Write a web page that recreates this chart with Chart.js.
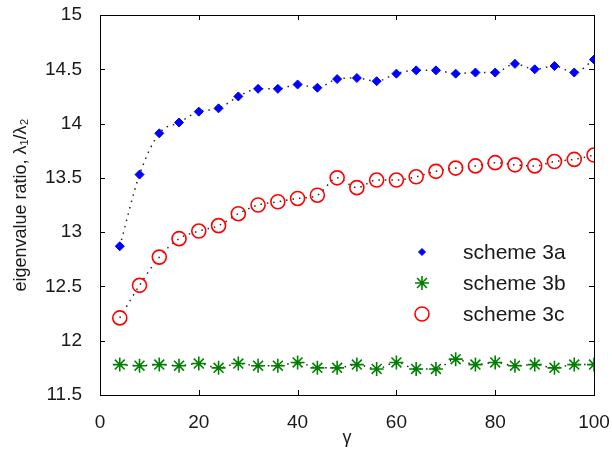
<!DOCTYPE html>
<html>
<head>
<meta charset="utf-8">
<title>eigenvalue ratio vs gamma</title>
<script src="https://cdn.jsdelivr.net/npm/chart.js"></script>
<style>
  html, body { margin: 0; padding: 0; background: #fff; }
  #wrap { width: 612px; height: 462px; }
</style>
</head>
<body>
<div id="wrap"><canvas id="ratioChart" width="612" height="462"></canvas></div>
<script>
// values
const gammaValues = [4, 8, 12, 16, 20, 24, 28, 32, 36, 40, 44, 48, 52,
                     56, 60, 64, 68, 72, 76, 80, 84, 88, 92, 96, 100];
const scheme3a = [12.87, 13.53, 13.91, 14.01, 14.11, 14.14, 14.25, 14.32, 14.32, 14.36, 14.33, 14.41, 14.42,
                  14.39, 14.46, 14.49, 14.49, 14.46, 14.47, 14.47, 14.55, 14.50, 14.53, 14.47, 14.59];
const scheme3b = [11.78, 11.77, 11.78, 11.77, 11.79, 11.75, 11.79, 11.77, 11.77, 11.80, 11.75, 11.75, 11.78,
                  11.74, 11.80, 11.74, 11.74, 11.83, 11.78, 11.80, 11.77, 11.78, 11.75, 11.78, 11.78];
const scheme3c = [12.21, 12.51, 12.77, 12.94, 13.01, 13.06, 13.17, 13.25, 13.28, 13.31, 13.34, 13.50, 13.41,
                  13.48, 13.48, 13.51, 13.56, 13.59, 13.61, 13.64, 13.62, 13.61, 13.65, 13.67, 13.71];
const seriesNames = ['scheme 3a', 'scheme 3b', 'scheme 3c'];

const textColor = '#1a1a1a';
const fontFamily = "'Liberation Sans', Arial, Helvetica, sans-serif";

function toXY(ys) {
    return ys.map((v, i) => ({ x: gammaValues[i], y: v }));
}

// box round the plot with matlab-style inward ticks on all four sides
const boxPlugin = {
    id: 'box',
    afterDraw(chart) {
        const { ctx, chartArea: a, scales } = chart;
        ctx.save();
        ctx.strokeStyle = '#000';
        ctx.lineWidth = 1;
        ctx.strokeRect(a.left + 0.5, a.top + 0.5, a.right - a.left, a.bottom - a.top);
        const len = 5;
        ctx.beginPath();
        scales.x.ticks.forEach(t => {
            const px = Math.round(scales.x.getPixelForValue(t.value)) + 0.5;
            ctx.moveTo(px, a.bottom); ctx.lineTo(px, a.bottom - len);
            ctx.moveTo(px, a.top); ctx.lineTo(px, a.top + len);
        });
        scales.y.ticks.forEach(t => {
            const py = Math.round(scales.y.getPixelForValue(t.value)) + 0.5;
            ctx.moveTo(a.left, py); ctx.lineTo(a.left + len, py);
            ctx.moveTo(a.right, py); ctx.lineTo(a.right - len, py);
        });
        ctx.stroke();
        ctx.restore();
    }
};

// legend sits inside the axes, no frame
const innerLegend = {
    id: 'innerLegend',
    afterDatasetsDraw(chart) {
        const { ctx, chartArea: a } = chart;
        const markX = a.right - 172;
        const textX = a.right - 131;
        ctx.save();
        ctx.font = '21px ' + fontFamily;
        ctx.textBaseline = 'middle';
        chart.data.datasets.forEach((ds, i) => {
            const y = a.top + 237 + i * 31;
            ctx.strokeStyle = ds.pointBorderColor;
            ctx.fillStyle = ds.pointBackgroundColor;
            ctx.lineWidth = ds.pointBorderWidth;
            Chart.helpers.drawPoint(ctx, {
                pointStyle: ds.pointStyle,
                radius: i === 0 ? 3.5 : ds.pointRadius,
                rotation: 0,
                borderWidth: ds.pointBorderWidth
            }, markX, y);
            ctx.fillStyle = textColor;
            ctx.fillText(seriesNames[i], textX, y + 1);
        });
        ctx.restore();
    }
};

const dotted = {
    showLine: true,
    borderColor: 'rgba(0,0,0,0.85)',
    borderWidth: 1.5,
    borderDash: [1.5, 5],
    cubicInterpolationMode: 'monotone'
};

new Chart(document.getElementById('ratioChart'), {
    type: 'scatter',
    data: {
        datasets: [
            Object.assign({
                label: seriesNames[0],
                data: toXY(scheme3a),
                pointStyle: 'rectRot',
                pointRadius: 4.5,
                pointBorderWidth: 1,
                pointBorderColor: '#0000ff',
                pointBackgroundColor: '#0000ff'
            }, dotted),
            Object.assign({
                label: seriesNames[1],
                data: toXY(scheme3b),
                pointStyle: 'star',
                pointRadius: 7,
                pointBorderWidth: 1.6,
                pointBorderColor: '#008000',
                pointBackgroundColor: '#008000'
            }, dotted),
            Object.assign({
                label: seriesNames[2],
                data: toXY(scheme3c),
                pointStyle: 'circle',
                pointRadius: 7,
                pointBorderWidth: 1.6,
                pointBorderColor: '#ff0000',
                pointBackgroundColor: 'rgba(0,0,0,0)'
            }, dotted)
        ]
    },
    options: {
        responsive: false,
        animation: false,
        layout: { padding: { top: 15, right: 18, left: 0, bottom: 0 } },
        plugins: {
            legend: { display: false },
            tooltip: { enabled: false }
        },
        scales: {
            x: {
                type: 'linear',
                min: 0,
                max: 100,
                afterFit: s => { s.height = 67; s.paddingLeft = 0; s.paddingRight = 0; },
                grid: { display: false },
                border: { display: false },
                ticks: {
                    stepSize: 20,
                    padding: 8,
                    color: textColor,
                    font: { family: fontFamily, size: 19 },
                    maxRotation: 0
                },
                title: {
                    display: true,
                    text: 'γ',
                    color: textColor,
                    font: { family: fontFamily, size: 18 },
                    padding: { top: 0, bottom: 13 }
                }
            },
            y: {
                min: 11.5,
                max: 15,
                afterFit: s => { s.width = 100; s.paddingTop = 0; s.paddingBottom = 0; },
                grid: { display: false },
                border: { display: false },
                ticks: {
                    stepSize: 0.5,
                    padding: 10,
                    color: textColor,
                    font: { family: fontFamily, size: 19 },
                    callback: v => String(v)
                },
                title: {
                    display: true,
                    text: 'eigenvalue ratio, λ₁/λ₂',
                    color: textColor,
                    font: { family: fontFamily, size: 18 },
                    padding: { top: 10, bottom: 0 }
                }
            }
        }
    },
    plugins: [boxPlugin, innerLegend]
});
</script>
</body>
</html>
